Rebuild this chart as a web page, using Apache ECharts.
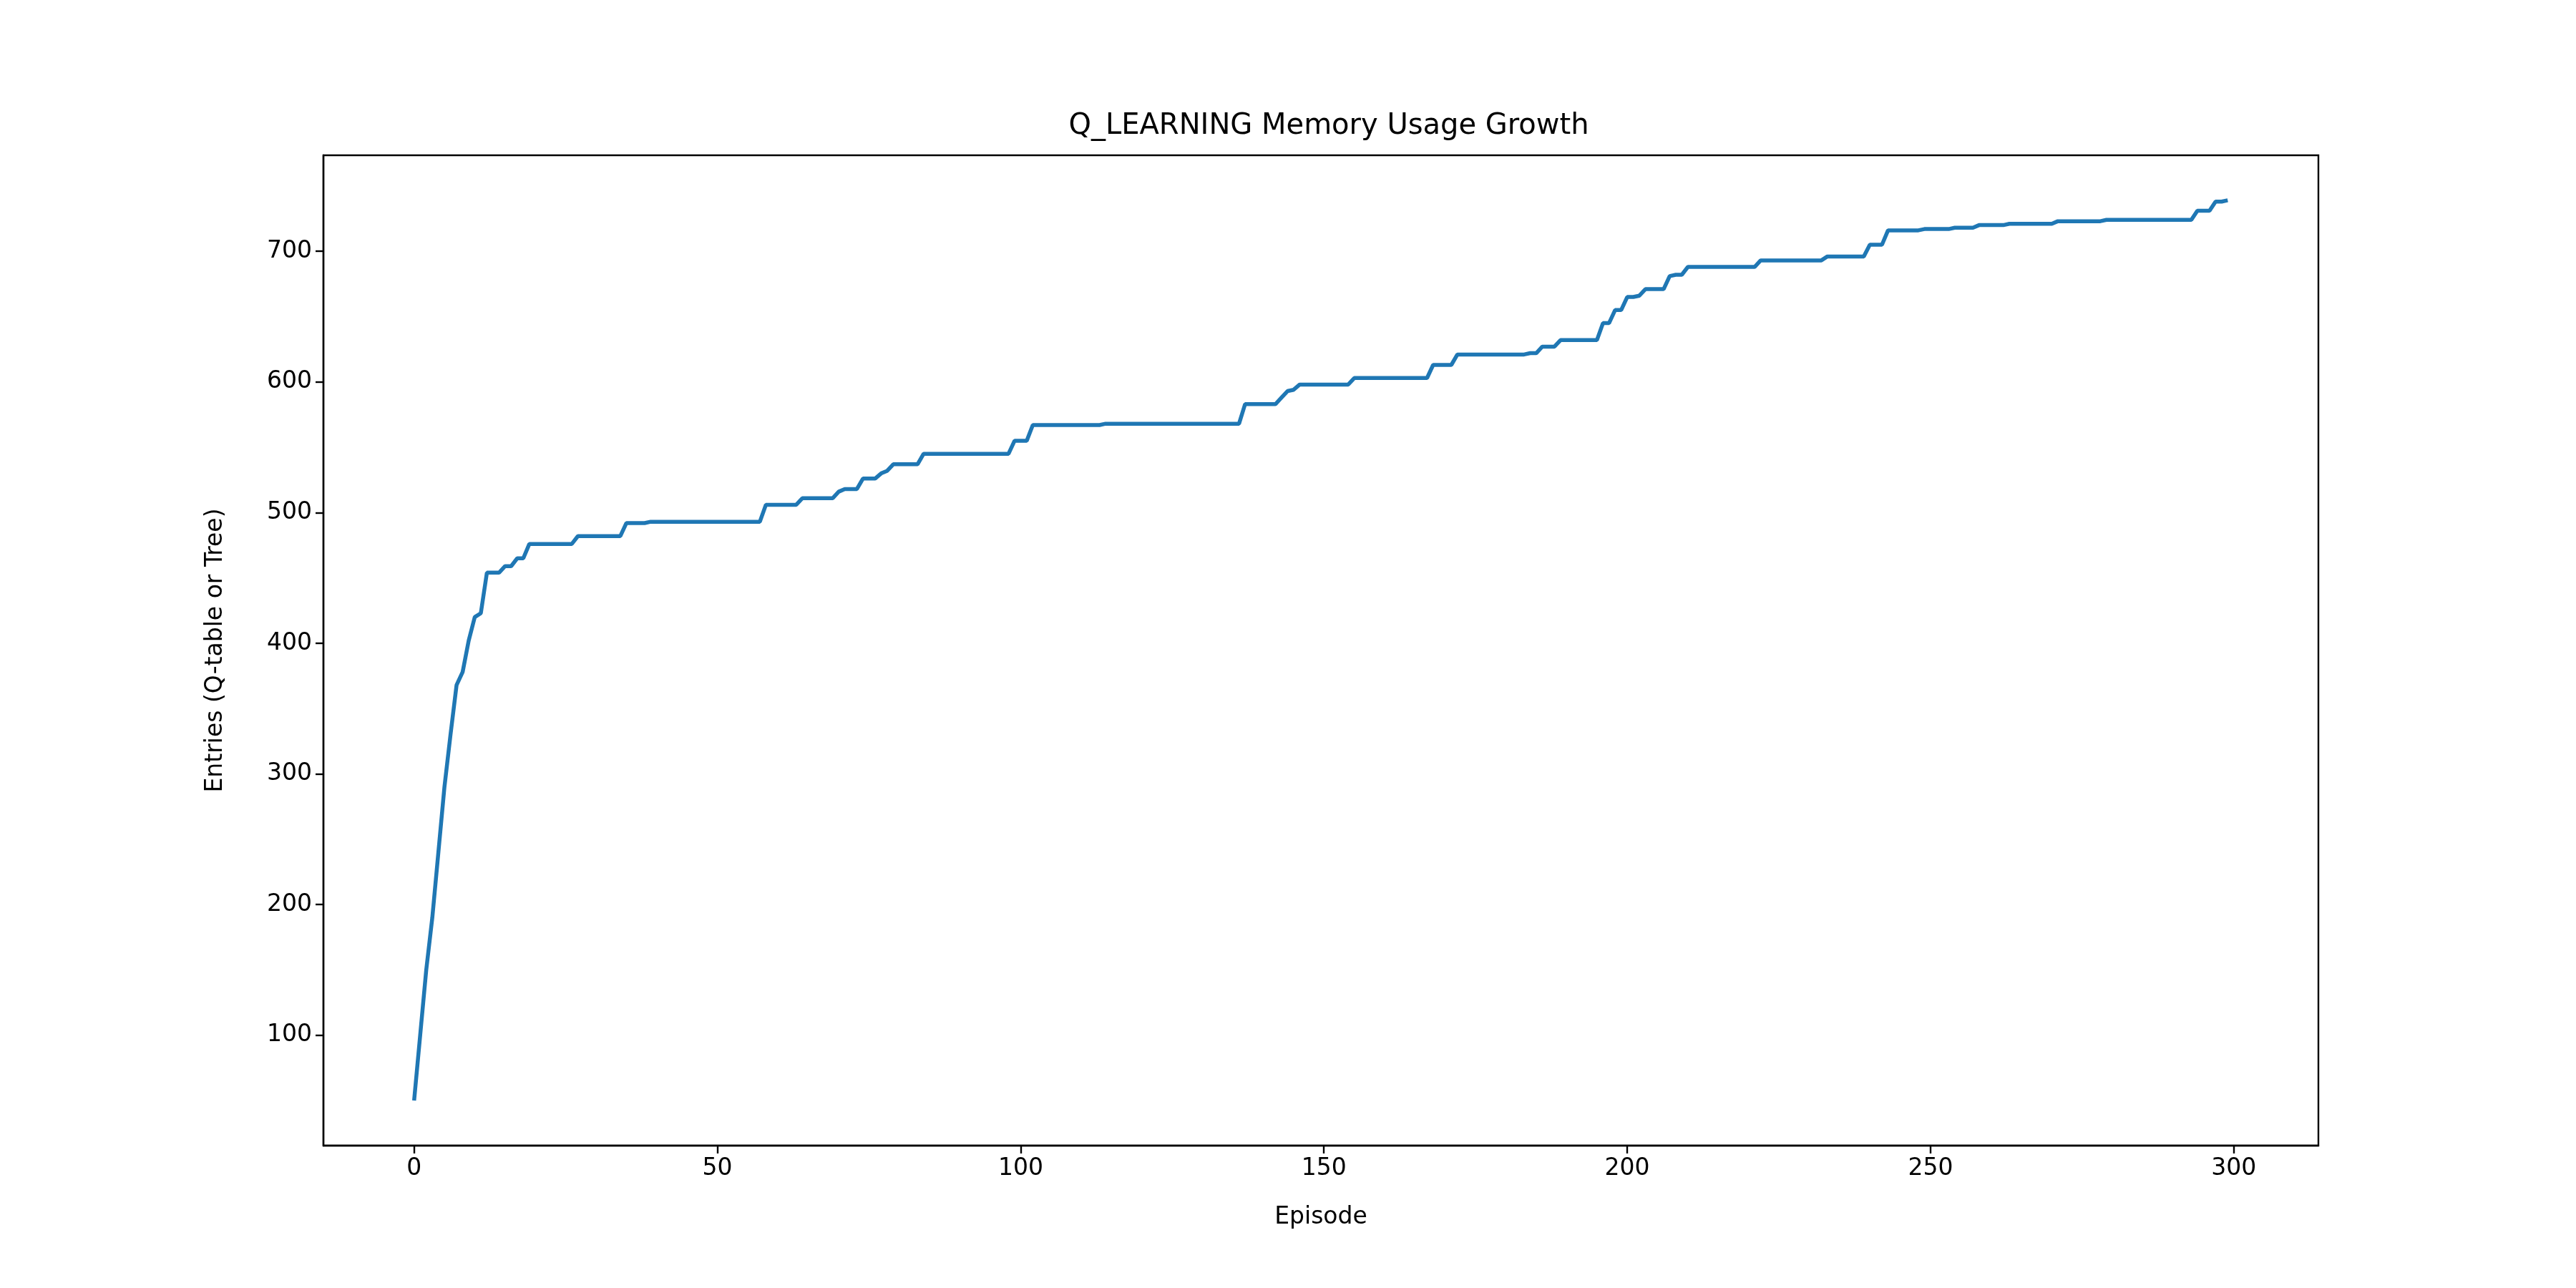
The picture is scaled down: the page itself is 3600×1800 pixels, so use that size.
<!DOCTYPE html>
<html>
<head>
<meta charset="utf-8">
<script src="https://cdn.jsdelivr.net/npm/echarts@6/dist/echarts.min.js"></script>
<style>
html, body { margin: 0; padding: 0; background: #fff; }
#chart { width: 3600px; height: 1800px; }
</style>
</head>
<body>
<div id="chart"></div>
<script>
// memory entries per episode
var entries = [
    50, 100, 150, 190, 240, 290, 330, 368, 378, 402,
    420, 423, 454, 454, 454, 459, 459, 465, 465, 476,
    476, 476, 476, 476, 476, 476, 476, 482, 482, 482,
    482, 482, 482, 482, 482, 492, 492, 492, 492, 493,
    493, 493, 493, 493, 493, 493, 493, 493, 493, 493,
    493, 493, 493, 493, 493, 493, 493, 493, 506, 506,
    506, 506, 506, 506, 511, 511, 511, 511, 511, 511,
    516, 518, 518, 518, 526, 526, 526, 530, 532, 537,
    537, 537, 537, 537, 545, 545, 545, 545, 545, 545,
    545, 545, 545, 545, 545, 545, 545, 545, 545, 555,
    555, 555, 567, 567, 567, 567, 567, 567, 567, 567,
    567, 567, 567, 567, 568, 568, 568, 568, 568, 568,
    568, 568, 568, 568, 568, 568, 568, 568, 568, 568,
    568, 568, 568, 568, 568, 568, 568, 583, 583, 583,
    583, 583, 583, 588, 593, 594, 598, 598, 598, 598,
    598, 598, 598, 598, 598, 603, 603, 603, 603, 603,
    603, 603, 603, 603, 603, 603, 603, 603, 613, 613,
    613, 613, 621, 621, 621, 621, 621, 621, 621, 621,
    621, 621, 621, 621, 622, 622, 627, 627, 627, 632,
    632, 632, 632, 632, 632, 632, 645, 645, 655, 655,
    665, 665, 666, 671, 671, 671, 671, 681, 682, 682,
    688, 688, 688, 688, 688, 688, 688, 688, 688, 688,
    688, 688, 693, 693, 693, 693, 693, 693, 693, 693,
    693, 693, 693, 696, 696, 696, 696, 696, 696, 696,
    705, 705, 705, 716, 716, 716, 716, 716, 716, 717,
    717, 717, 717, 717, 718, 718, 718, 718, 720, 720,
    720, 720, 720, 721, 721, 721, 721, 721, 721, 721,
    721, 723, 723, 723, 723, 723, 723, 723, 723, 724,
    724, 724, 724, 724, 724, 724, 724, 724, 724, 724,
    724, 724, 724, 724, 731, 731, 731, 738, 738, 739
];
var xTicks = [0, 50, 100, 150, 200, 250, 300];
var yTicks = [100, 200, 300, 400, 500, 600, 700];

var points = entries.map(function (value, index) {
    return [index, value];
});

var fontFamily = 'DejaVu Sans';
var chart = echarts.init(document.getElementById('chart'));
chart.setOption({
    animation: false,
    title: {
        text: 'Q_LEARNING Memory Usage Growth',
        left: 1852,
        textAlign: 'center',
        top: 152,
        textStyle: { fontFamily: fontFamily, fontSize: 40, fontWeight: 'normal', color: '#000' }
    },
    grid: {
        left: 452, right: 360, top: 217, bottom: 199,
        show: true, borderColor: '#000', borderWidth: 2.4, backgroundColor: '#fff'
    },
    xAxis: {
        type: 'value',
        min: -14.95,
        max: 313.95,
        name: 'Episode',
        nameLocation: 'middle',
        nameGap: 84,
        nameTextStyle: { fontFamily: fontFamily, fontSize: 33, color: '#000' },
        axisLine: { show: true, onZero: false, lineStyle: { color: '#000', width: 2.4 } },
        axisTick: { show: true, length: 11, lineStyle: { color: '#000', width: 2.4 }, customValues: xTicks },
        axisLabel: { fontFamily: fontFamily, fontSize: 33, color: '#000', margin: 16, customValues: xTicks },
        splitLine: { show: false }
    },
    yAxis: {
        type: 'value',
        min: 15.55,
        max: 773.45,
        name: 'Entries (Q-table or Tree)',
        nameLocation: 'middle',
        nameGap: 134,
        nameTextStyle: { fontFamily: fontFamily, fontSize: 33, color: '#000' },
        axisLine: { show: true, onZero: false, lineStyle: { color: '#000', width: 2.4 } },
        axisTick: { show: true, length: 11, lineStyle: { color: '#000', width: 2.4 }, customValues: yTicks },
        axisLabel: { fontFamily: fontFamily, fontSize: 33, color: '#000', margin: 16, customValues: yTicks },
        splitLine: { show: false }
    },
    series: [{
        type: 'line',
        data: points,
        showSymbol: false,
        lineStyle: { color: '#1f77b4', width: 5.5 }
    }]
});
</script>
</body>
</html>
